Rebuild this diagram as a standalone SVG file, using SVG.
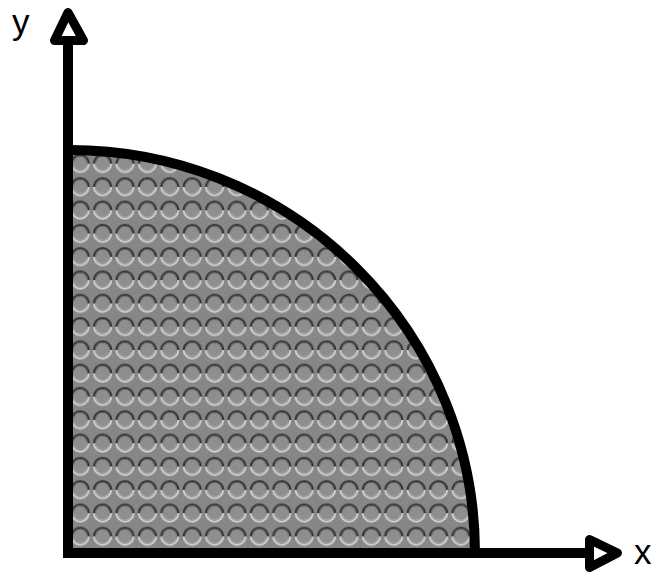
<svg xmlns="http://www.w3.org/2000/svg" width="652" height="573" viewBox="0 0 652 573">
<defs>
<style>
.ax{stroke:#000;stroke-width:10;fill:none}
.head{stroke:#000;stroke-width:9;fill:#fff;stroke-linejoin:round}
.lbl{font-family:"Liberation Sans","DejaVu Sans",sans-serif;font-size:35px;fill:#000}
</style>
<filter id="noise" x="0" y="0" width="100%" height="100%">
<feTurbulence type="fractalNoise" baseFrequency="0.9" numOctaves="2" seed="3" result="n"/>
<feColorMatrix in="n" type="matrix" values="0 0 0 0 0.5  0 0 0 0 0.5  0 0 0 0 0.5  0 0 0 0.25 0" result="g"/>
<feComposite in="g" in2="SourceGraphic" operator="in"/>
</filter>
<pattern id="bumps" patternUnits="userSpaceOnUse" x="69" y="152" width="22.4" height="23.3">
<rect width="22.4" height="23.3" fill="#828282"/>
<circle cx="11.2" cy="11.6" r="6.5" fill="#8a8a8a"/>
<path d="M2.6,11.6 A8.6 8.6 0 0 1 19.8,11.6" fill="none" stroke="#262626" stroke-width="2.2"/>
<path d="M4.4,9.4 A7 7 0 0 1 18,9.4" fill="none" stroke="#555" stroke-width="1"/>
<path d="M2.6,11.6 A8.6 8.6 0 0 0 19.8,11.6" fill="none" stroke="#d6d6d6" stroke-width="1.8"/>
<path d="M4.6,13.8 A7 7 0 0 0 17.8,13.8" fill="none" stroke="#a8a8a8" stroke-width="1"/>
</pattern>
</defs>
<rect width="652" height="573" fill="#fff"/>
<g id="quarter-disc">
<path d="M68,150 A405 403 0 0 1 475,553 L68,553 Z" fill="url(#bumps)"/>
<path d="M68,150 A405 403 0 0 1 475,553 L68,553 Z" fill="#808080" filter="url(#noise)" opacity="0.7"/>
<path d="M68,150 A405 403 0 0 1 475,553" fill="none" stroke="#000" stroke-width="10"/>
</g>
<g id="connectors">
<line class="ax" x1="68" y1="558" x2="68" y2="41"/>
<line class="ax" x1="63" y1="553" x2="590" y2="553"/>
<polygon class="head" points="68,12.5 83.5,40.5 54.5,40.5"/>
<polygon class="head" points="617.5,553 589.5,539.5 589.5,567.5"/>
</g>
<g id="label-y"><text class="lbl" x="12" y="34">y</text></g>
<g id="label-x"><text class="lbl" x="634" y="564">x</text></g>
</svg>
